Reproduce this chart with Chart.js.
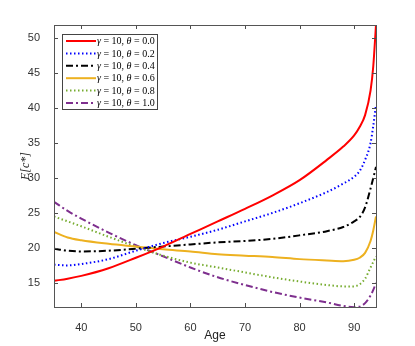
<!DOCTYPE html>
<html><head><meta charset="utf-8">
<script src="https://cdn.jsdelivr.net/npm/chart.js@4.4.1/dist/chart.umd.min.js"></script>
<style>html,body{margin:0;padding:0;background:#fff}#wrap{width:415px;height:346px}</style>
</head><body><div id="wrap"><canvas id="c" width="415" height="346"></canvas></div>
<script>
const ages = [35, 37.5, 40, 45, 50, 55, 60, 65, 70, 75, 80, 85, 88, 90, 91, 92, 93, 93.5, 94];
const theta00 = [15.3, 15.6, 16.0, 17.1, 18.6, 20.2, 22.0, 23.8, 25.6, 27.5, 29.7, 32.6, 34.5, 36.1, 37.3, 39.0, 42.5, 46.0, 51.9];
const theta02 = [17.6, 17.5, 17.7, 18.4, 19.6, 20.7, 21.6, 22.6, 23.8, 25.0, 26.4, 28.0, 29.2, 30.2, 31.0, 32.6, 35.0, 37.5, 40.5];
const theta04 = [19.9, 19.6, 19.5, 19.6, 19.9, 20.2, 20.5, 20.8, 21.0, 21.3, 21.8, 22.4, 23.0, 23.8, 24.4, 25.8, 28.5, 30.0, 31.6];
const theta06 = [22.3, 21.5, 21.1, 20.6, 20.2, 19.8, 19.5, 19.1, 18.9, 18.7, 18.4, 18.2, 18.1, 18.3, 18.6, 19.3, 21.0, 22.5, 24.5];
const theta08 = [24.5, 23.8, 23.1, 21.6, 20.2, 18.9, 17.9, 17.2, 16.5, 15.8, 15.2, 14.7, 14.5, 14.5, 14.8, 15.6, 17.2, 18.0, 18.8];
const theta10 = [26.6, 25.3, 24.2, 22.2, 20.4, 18.8, 17.2, 15.8, 14.7, 13.7, 12.9, 12.2, 11.7, 11.5, 11.6, 12.1, 13.2, 14.0, 15.0];
const thetaLabels = ['0.0', '0.2', '0.4', '0.6', '0.8', '1.0'];
const gammaValue = '10';
const xTicks = [40, 50, 60, 70, 80, 90];
const yTicks = [15, 20, 25, 30, 35, 40, 45, 50];

const seriesList = [theta00, theta02, theta04, theta06, theta08, theta10];
const styles = [
  {c: '#ff0000', d: []},
  {c: '#0000ff', d: [1.5, 2.5]},
  {c: '#000000', d: [7, 3, 2, 3]},
  {c: '#edb120', d: []},
  {c: '#77ac30', d: [1.5, 2.5]},
  {c: '#7e2f8e', d: [7, 3, 2, 3]}
];
const datasets = seriesList.map((s, i) => ({
  label: 'γ = ' + gammaValue + ', θ = ' + thetaLabels[i],
  data: ages.map((a, j) => ({x: a, y: s[j]})),
  borderColor: styles[i].c,
  borderDash: styles[i].d,
  borderWidth: 2,
  pointRadius: 0,
  fill: false,
  cubicInterpolationMode: 'monotone'
}));

const framePlugin = {
  id: 'frame',
  afterDatasetsDraw(chart) {
    const {ctx, chartArea: a, scales} = chart;
    ctx.save();
    ctx.strokeStyle = '#4d4d4d';
    ctx.lineWidth = 1;
    ctx.setLineDash([]);
    ctx.beginPath();
    xTicks.forEach(v => {
      const px = Math.round(scales.x.getPixelForValue(v)) + 0.5;
      ctx.moveTo(px, a.bottom); ctx.lineTo(px, a.bottom - 4);
      ctx.moveTo(px, a.top); ctx.lineTo(px, a.top + 4);
    });
    yTicks.forEach(v => {
      const py = Math.round(scales.y.getPixelForValue(v)) + 0.5;
      ctx.moveTo(a.left, py); ctx.lineTo(a.left + 4, py);
      ctx.moveTo(a.right, py); ctx.lineTo(a.right - 4, py);
    });
    ctx.stroke();
    ctx.strokeStyle = '#555';
    ctx.strokeRect(Math.round(a.left) + 0.5, Math.round(a.top) + 0.5, Math.round(a.right - a.left), Math.round(a.bottom - a.top));

    // legend
    const lx = 62, ly = 34, lw = 95, lh = 75, rowH = 12.4;
    ctx.fillStyle = '#fff';
    ctx.fillRect(lx, ly, lw, lh);
    ctx.strokeStyle = '#444';
    ctx.strokeRect(lx + 0.5, ly + 0.5, lw, lh);
    chart.data.datasets.forEach((ds, i) => {
      const y = ly + 7 + i * rowH;
      ctx.strokeStyle = ds.borderColor;
      ctx.lineWidth = 2;
      ctx.setLineDash(ds.borderDash);
      ctx.beginPath(); ctx.moveTo(66, y); ctx.lineTo(96, y); ctx.stroke();
      ctx.setLineDash([]);
      ctx.fillStyle = '#000';
      ctx.textBaseline = 'middle';
      let x = 97;
      const parts = [['italic', 'γ'], ['normal', ' = ' + gammaValue + ', '], ['italic', 'θ'], ['normal', ' = ' + thetaLabels[i]]];
      parts.forEach(([st, t]) => {
        ctx.font = st + ' 10px "Liberation Serif", "DejaVu Serif", serif';
        ctx.fillText(t, x, y + 0.5);
        x += ctx.measureText(t).width;
      });
    });
    ctx.restore();
  }
};

new Chart(document.getElementById('c'), {
  type: 'line',
  data: {datasets},
  options: {
    responsive: false,
    animation: false,
    events: [],
    layout: {padding: {top: 25, right: 39, left: 0, bottom: 0}},
    plugins: {legend: {display: false}, tooltip: {enabled: false}},
    scales: {
      x: {
        type: 'linear', min: 35, max: 94,
        afterBuildTicks: s => { s.ticks = xTicks.map(v => ({value: v})); },
        afterFit: s => { s.height = 39; },
        grid: {display: false}, border: {display: false},
        ticks: {color: '#333', padding: 6, font: {family: '"Liberation Sans", Arial, sans-serif', size: 11}, maxRotation: 0},
        title: {display: true, text: 'Age', color: '#222', padding: {top: 0, bottom: 3}, font: {family: '"Liberation Sans", Arial, sans-serif', size: 12}}
      },
      y: {
        type: 'linear', min: 11.55, max: 51.9,
        afterBuildTicks: s => { s.ticks = yTicks.map(v => ({value: v})); },
        afterFit: s => { s.width = 54; },
        grid: {display: false}, border: {display: false},
        ticks: {color: '#333', padding: 6, font: {family: '"Liberation Sans", Arial, sans-serif', size: 11}},
        title: {display: true, text: 'E[c*]', color: '#222', padding: {top: 19, bottom: 0}, font: {family: '"Liberation Serif", serif', size: 12, style: 'italic'}}
      }
    }
  },
  plugins: [framePlugin]
});
</script></body></html>
